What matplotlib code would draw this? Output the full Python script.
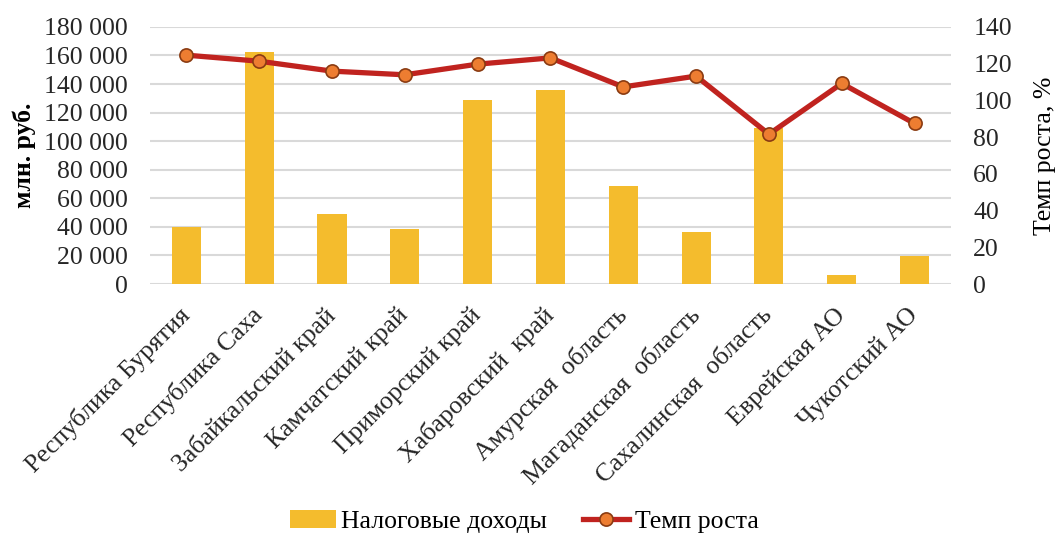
import matplotlib.pyplot as plt
from matplotlib.ticker import FuncFormatter

plt.rcParams['font.family'] = ['Liberation Serif', 'DejaVu Serif']

regions = ['Республика Бурятия', 'Республика Саха', 'Забайкальский край',
           'Камчатский край', 'Приморский край', 'Хабаровский  край',
           'Амурская  область', 'Магаданская  область', 'Сахалинская  область',
           'Еврейская АО', 'Чукотский АО']
tax_income = [39700, 162500, 48800, 38700, 128700, 135700,
              68600, 36200, 109500, 6300, 19800]
growth = [124.6, 121.3, 115.9, 113.9, 119.7, 123.1,
          107.3, 113.2, 81.6, 109.2, 87.4]

fig = plt.figure(figsize=(10.59, 5.37), dpi=100)
ax = fig.add_axes([0.1416, 0.471, 0.7564, 0.479])
ax2 = ax.twinx()

x = range(len(regions))
ax.bar(x, tax_income, width=0.4, color='#F4BC2D', label='Налоговые доходы', zorder=2)
ax2.plot(x, growth, color='#C0231F', lw=3.8, marker='o', ms=9.5,
         mfc='#ED7D31', mec='#8A3B12', mew=1.2, label='Темп роста', zorder=3)

ax.set_ylim(0, 180000)
ax.set_yticks(range(0, 180001, 20000))
ax.yaxis.set_major_formatter(FuncFormatter(lambda v, p: f'{v:,.0f}'.replace(',', ' ')))
ax2.set_ylim(0, 140)
ax2.set_yticks(range(0, 141, 20))
ax.set_xlim(-0.5, len(regions) - 0.5)

ax.grid(axis='y', color='#D9D9D9', lw=1.5, zorder=0)
ax.set_axisbelow(True)
for a in (ax, ax2):
    for s in a.spines.values():
        s.set_visible(False)
    a.tick_params(length=0, labelsize=18.5, colors='#262626')
ax.tick_params(axis='y', pad=16)
ax.tick_params(axis='x', pad=20)
ax2.tick_params(axis='y', pad=16)

ax.set_xticks(list(x))
ax.set_xticklabels(regions, rotation=45, ha='right', va='center',
                   rotation_mode='anchor', fontsize=18.5)

ax.set_ylabel('млн. руб.', fontsize=18.5, fontweight='bold', labelpad=6)
ax2.set_ylabel('Темп роста, %', fontsize=18.5, labelpad=16)

h1, l1 = ax.get_legend_handles_labels()
h2, l2 = ax2.get_legend_handles_labels()
fig.legend(h1 + h2, l1 + l2, loc='lower center', bbox_to_anchor=(0.495, -0.035),
           ncol=2, frameon=False, fontsize=18.5, handlelength=1.8, columnspacing=1.4,
           handletextpad=0.2)

fig.savefig('out.png', dpi=100)
